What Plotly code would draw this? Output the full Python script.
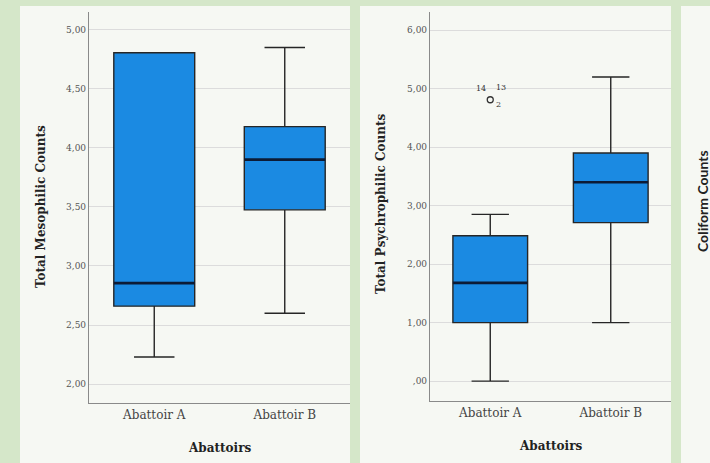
import plotly.graph_objects as go

# Categories shared by both panels
categories = ["Abattoir A", "Abattoir B"]

# Total mesophilic counts (box statistics per abattoir)
meso_q1 = [2.66, 3.475]
meso_median = [2.855, 3.90]
meso_q3 = [4.805, 4.18]
meso_lower = [2.23, 2.60]
meso_upper = [4.805, 4.85]
meso_ticks = [2.0, 2.5, 3.0, 3.5, 4.0, 4.5, 5.0]

# Total psychrophilic counts (box statistics per abattoir)
psy_q1 = [1.00, 2.71]
psy_median = [1.68, 3.40]
psy_q3 = [2.485, 3.90]
psy_lower = [0.00, 1.00]
psy_upper = [2.85, 5.20]
psy_ticks = [0.0, 1.0, 2.0, 3.0, 4.0, 5.0, 6.0]

# Outlying cases in the psychrophilic panel
psy_outlier_x = ["Abattoir A"]
psy_outlier_y = [4.81]
psy_outlier_cases = ["14", "13", "2"]

W, H = 710, 463
BOX_FILL = "#1b8ae2"
BOX_LINE = "#262626"
MEDIAN_LINE = "#0c1b36"
BOX_WIDTH = 0.62
SERIF = "DejaVu Serif"


def fmt_tick(v):
    s = f"{v:.2f}".replace(".", ",")
    return s[1:] if s.startswith("0,") else s


def px_x(x):
    return x / W


def px_y(y):
    return 1 - y / H


fig = go.Figure()

panels = [
    dict(xa="x", ya="y", q1=meso_q1, med=meso_median, q3=meso_q3,
         lo=meso_lower, hi=meso_upper),
    dict(xa="x2", ya="y2", q1=psy_q1, med=psy_median, q3=psy_q3,
         lo=psy_lower, hi=psy_upper),
]

for p in panels:
    fig.add_trace(go.Box(
        x=categories, q1=p["q1"], median=p["med"], q3=p["q3"],
        lowerfence=p["lo"], upperfence=p["hi"],
        width=BOX_WIDTH, whiskerwidth=0.5,
        fillcolor=BOX_FILL, line=dict(color=BOX_LINE, width=1.4),
        boxpoints=False, showlegend=False, hoverinfo="skip",
        xaxis=p["xa"], yaxis=p["ya"],
    ))
    # thicker median bar drawn over each box
    for i, m in enumerate(p["med"]):
        fig.add_shape(type="line", xref=p["xa"], yref=p["ya"],
                      x0=i - BOX_WIDTH / 2, x1=i + BOX_WIDTH / 2, y0=m, y1=m,
                      line=dict(color=MEDIAN_LINE, width=2.6), layer="above")

fig.add_trace(go.Scatter(
    x=psy_outlier_x, y=psy_outlier_y, mode="markers",
    marker=dict(symbol="circle-open", size=6, color="#333333",
                line=dict(width=1.3)),
    showlegend=False, hoverinfo="skip", xaxis="x2", yaxis="y2",
))
for label, (dx, dy) in zip(psy_outlier_cases, [(-9, 11), (11, 12), (8, -5)]):
    fig.add_annotation(x=psy_outlier_x[0], y=psy_outlier_y[0], xref="x2", yref="y2",
                       text=label, showarrow=False, xshift=dx, yshift=dy,
                       font=dict(family=SERIF, size=8, color="#333333"))

# white cards behind each panel
cards = [(20, 6, 350, 463), (360, 6, 671, 463), (681, 6, 720, 463)]
for x0, y0, x1, y1 in cards:
    fig.add_shape(type="rect", xref="paper", yref="paper",
                  x0=px_x(x0), x1=px_x(x1), y0=px_y(y1), y1=px_y(y0),
                  fillcolor="#f6f8f3", line=dict(width=0), layer="below")

axis_common = dict(showline=True, linecolor="#8a8a8a", linewidth=1.2,
                   zeroline=False, ticks="")
xcommon = dict(axis_common, type="category", range=[-0.5, 1.5], showgrid=False,
               tickfont=dict(family=SERIF, size=12, color="#444444"))
ycommon = dict(axis_common, showgrid=True, gridcolor="#dcdcdc", gridwidth=1,
               tickfont=dict(family=SERIF, size=9, color="#555555"))

fig.update_layout(
    width=W, height=H,
    margin=dict(l=0, r=0, t=0, b=0),
    paper_bgcolor="#d5e7c9",
    plot_bgcolor="rgba(0,0,0,0)",
    xaxis=dict(xcommon, domain=[px_x(89), px_x(350)], anchor="y"),
    yaxis=dict(ycommon, domain=[px_y(403), px_y(12)], anchor="x",
               range=[1.84, 5.15], tickvals=meso_ticks,
               ticktext=[fmt_tick(v) for v in meso_ticks]),
    xaxis2=dict(xcommon, domain=[px_x(430), px_x(671)], anchor="y2"),
    yaxis2=dict(ycommon, domain=[px_y(401), px_y(12)], anchor="x2",
                range=[-0.34, 6.31], tickvals=psy_ticks,
                ticktext=[fmt_tick(v) for v in psy_ticks]),
)

title_font = dict(family=SERIF, size=12, color="#222222")
axis_titles = [
    ("Abattoirs", px_x(219.5), px_y(448), 0),
    ("Abattoirs", px_x(550.5), px_y(446), 0),
    ("Total Mesophilic Counts", px_x(41), px_y(207), -90),
    ("Total Psychrophilic Counts", px_x(381), px_y(203), -90),
]
for text, x, y, ang in axis_titles:
    fig.add_annotation(x=x, y=y, xref="paper", yref="paper", text=f"<b>{text}</b>",
                       showarrow=False, textangle=ang, font=title_font,
                       xanchor="center", yanchor="middle")

# third panel title (sans-serif)
fig.add_annotation(x=px_x(702), y=px_y(201), xref="paper", yref="paper",
                   text="<b>Coliform Counts</b>", showarrow=False, textangle=-90,
                   font=dict(family="Lato", size=14, color="#222222"),
                   xanchor="center", yanchor="middle")

fig.write_html("out.html")
